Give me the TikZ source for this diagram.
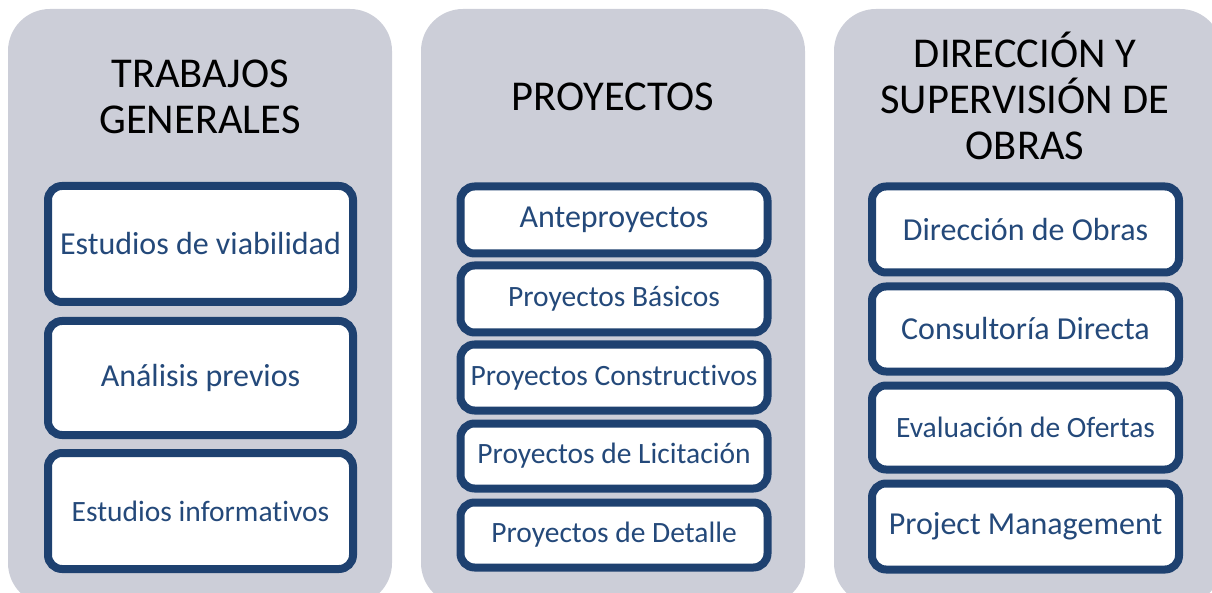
\documentclass[tikz,border=0pt]{standalone}
\usepackage{fontspec}
\setmainfont{Carlito}[Ligatures={NoCommon}]
\definecolor{panelgrey}{HTML}{CCCED8}
\definecolor{boxblue}{HTML}{1E4170}
\definecolor{txtblue}{HTML}{24497A}
\begin{document}
\begin{tikzpicture}[x=1pt,y=-1pt,
  panel/.style={fill=panelgrey, rounded corners=42pt},
  item/.style={draw=boxblue, fill=white, line width=8pt, rounded corners=14pt,
    minimum width=307pt, text=txtblue, align=center, inner sep=0pt},
  big/.style={font=\fontsize{32}{36}\selectfont},
  small/.style={font=\fontsize{29.5}{33}\selectfont},
  title/.style={text=black, align=center, font=\fontsize{42.5}{46}\selectfont}]
\useasboundingbox (0,0) rectangle (1212,593);
\fill[panel] (8,9) rectangle (392,605);
\fill[panel] (421,9) rectangle (805,605);
\fill[panel] (834,9) rectangle (1222,605);
% titles
\node[title] (t1) at (200,97) {TRABAJOS\\GENERALES};
\node[title] (t2) at (613,97) {PROYECTOS};
\node[title] (t3) at (1025,96) {DIRECCIÓN Y\\SUPERVISIÓN DE\\OBRAS};
% column 1
\node[item, big, minimum width=305pt, minimum height=116pt] (a1) at (200.5,244) {Estudios de viabilidad};
\node[item, big, minimum width=305pt, minimum height=114pt] (a2) at (200.5,378) {Análisis previos};
\node[item, small, minimum width=305pt, minimum height=116pt] (a3) at (200.5,511) {Estudios informativos};
% column 2
\node[item, big, minimum height=67pt] (b1) at (614,220) {Anteproyectos};
\node[item, small, minimum height=67pt] (b2) at (614,299) {Proyectos Básicos};
\node[item, small, minimum height=66pt] (b3) at (614,377.5) {Proyectos Constructivos};
\node[item, small, minimum height=65pt] (b4) at (614,456) {Proyectos de Licitación};
\node[item, small, minimum height=65pt] (b5) at (614,535) {Proyectos de Detalle};
% column 3
\node[item, big, minimum height=86pt] (c1) at (1025.5,229.5) {Dirección de Obras};
\node[item, big, minimum height=85pt] (c2) at (1025.5,329) {Consultoría Directa};
\node[item, small, minimum height=84pt] (c3) at (1025.5,427.5) {Evaluación de Ofertas};
\node[item, big, minimum height=86pt] (c4) at (1025.5,526.5) {Project Management};
\end{tikzpicture}
\end{document}
